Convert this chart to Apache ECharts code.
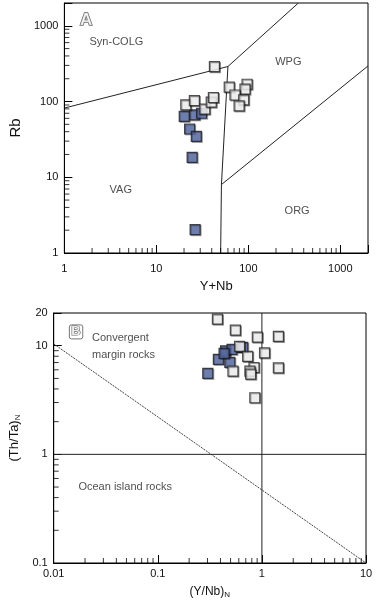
<!DOCTYPE html>
<html>
<head>
<meta charset="utf-8">
<script src="https://cdn.jsdelivr.net/npm/echarts@6/dist/echarts.min.js"></script>
<style>
  html, body { margin: 0; padding: 0; background: #fff; }
  #chart { width: 379px; height: 607px; }
</style>
</head>
<body>
<div id="chart"></div>
<script>
// diagram A: Rb vs Y+Nb
var aOpen = [[42.8, 289], [20.9, 90.6], [25.9, 103], [33.6, 79.4], [39.5, 98], [41.7, 113],
  [62, 155], [96.9, 169], [92, 146], [71.6, 122], [89, 105], [79.4, 87.8]]
var aFilled = [[20.1, 63.5], [26.1, 66.8], [31, 70], [23, 43.4], [27.2, 34.6], [24.5, 18.3], [26.4, 2.03]]
// field boundaries
var aLine1 = [[1, 82], [60, 290], [350, 2000]]
var aLine2 = [[60, 290], [51, 8], [50, 1]]
var aLine3 = [[51, 8], [2000, 295]]
var aFields = [[3.68, 615, 'Syn-COLG'], [272, 330, 'WPG'], [4.1, 6.75, 'VAG'], [339, 3.54, 'ORG']]

// diagram B: (Th/Ta)N vs (Y/Nb)N
var bOpen = [[0.374, 17.6], [0.556, 13.9], [0.904, 12.0], [1.44, 12.2], [0.61, 9.86], [0.73, 7.96],
  [1.06, 8.6], [0.527, 5.84], [0.84, 6.3], [0.767, 5.84], [0.78, 5.48], [1.44, 6.26], [0.855, 3.32]]
var bFilled = [[0.302, 5.56], [0.382, 7.48], [0.492, 7.02], [0.448, 8.97], [0.516, 9.25], [0.655, 9.65], [0.433, 8.5]]
var bDiag = [[0.01, 10.4], [10, 0.1]]
var bHoriz = [[0.01, 1], [10, 1]]
var bVert = [[1, 0.1], [1, 20]]
var bFields = [[0.0231, 11.7, 'Convergent'], [0.0231, 8.2, 'margin rocks'], [0.0171, 0.497, 'Ocean island rocks']]

var myChart = echarts.init(document.getElementById('chart'))

var font = 'Liberation Sans, Arial, sans-serif'

// minor ticks 2..9 of each decade between lo and hi
function minorTicks(lo, hi) {
  var out = []
  for (var d = lo; d < hi; d *= 10) {
    for (var k = 2; k <= 9; k++) {
      var v = +(d * k).toPrecision(3)
      if (v < hi) out.push(v)
    }
  }
  return out
}

// minor ticks drawn as thin rect symbols sitting on the axis, pointing inward
function tickSeries(idx, xMin, xMax, yMin, yMax) {
  var onX = minorTicks(xMin, xMax).map(function (v) { return [v, yMin] })
  var onY = minorTicks(yMin, yMax).map(function (v) { return [xMin, v] })
  var base = {
    type: 'scatter', xAxisIndex: idx, yAxisIndex: idx, silent: true, clip: false,
    symbol: 'rect', itemStyle: { color: '#000' }, z: 2
  }
  return [
    Object.assign({ data: onX, symbolSize: [1, 5], symbolOffset: [0, -2.5] }, base),
    Object.assign({ data: onY, symbolSize: [5, 1], symbolOffset: [2.5, 0] }, base)
  ]
}

var openStyle = {
  color: '#fff', borderColor: '#222', borderWidth: 1.2,
  shadowColor: 'rgba(0,0,0,0.45)', shadowOffsetX: 1, shadowOffsetY: 1, shadowBlur: 0
}
var filledStyle = {
  color: '#5a6faa', borderColor: '#1a1a22', borderWidth: 1.2,
  shadowColor: 'rgba(0,0,0,0.35)', shadowOffsetX: 1, shadowOffsetY: 1, shadowBlur: 0
}

function lineSeries(data, idx, extra) {
  return Object.assign({
    type: 'line', xAxisIndex: idx, yAxisIndex: idx, data: data,
    showSymbol: false, silent: true, z: 1,
    lineStyle: { color: '#222', width: 1 }
  }, extra || {})
}

function pointSeries(data, idx, style) {
  return {
    type: 'scatter', xAxisIndex: idx, yAxisIndex: idx, data: data,
    symbol: 'rect', symbolSize: 10, itemStyle: style, z: 3
  }
}

function textSeries(data, idx, label) {
  return {
    type: 'scatter', xAxisIndex: idx, yAxisIndex: idx, data: data,
    symbolSize: 1, itemStyle: { color: 'transparent' }, silent: true, z: 4,
    label: Object.assign({
      show: true, distance: 0,
      formatter: function (p) { return p.data[2] },
      color: '#222', fontSize: 11, fontFamily: font
    }, label)
  }
}

function axisBase() {
  return {
    type: 'log', logBase: 10,
    axisLine: { show: true, lineStyle: { color: '#000', width: 1 } },
    axisTick: { show: true, inside: true, length: 8, lineStyle: { color: '#000' } },
    splitLine: { show: false },
    minorTick: { show: false },
    axisLabel: {
      color: '#111', fontSize: 11, fontFamily: font,
      formatter: function (v) { return v === 2000 ? '' : String(v) }
    },
    nameTextStyle: { color: '#111', fontFamily: font }
  }
}

var xA = Object.assign(axisBase(), {
  gridIndex: 0, min: 1, max: 2000,
  name: 'Y+Nb', nameLocation: 'middle', nameGap: 27
})
xA.axisLabel.margin = 10
xA.nameTextStyle.fontSize = 13

var yA = Object.assign(axisBase(), {
  gridIndex: 0, min: 1, max: 2000,
  name: 'Rb', nameLocation: 'middle', nameGap: 31
})
yA.axisLabel.margin = 6
yA.nameTextStyle.fontSize = 15

var xB = Object.assign(axisBase(), {
  gridIndex: 1, min: 0.01, max: 10,
  name: '(Y/Nb){sub|N}', nameLocation: 'middle', nameGap: 22
})
xB.axisLabel.margin = 5
xB.nameTextStyle.fontSize = 12
xB.nameTextStyle.rich = { sub: { fontSize: 8, padding: [6, 0, 0, 0], color: '#111', fontFamily: font } }

var yB = Object.assign(axisBase(), {
  gridIndex: 1, min: 0.1, max: 20,
  name: '(Th/Ta){sub|N}', nameLocation: 'middle', nameGap: 28
})
yB.axisLabel.margin = 6
yB.nameTextStyle.fontSize = 13
yB.nameTextStyle.rich = { sub: { fontSize: 8, padding: [6, 0, 0, 0], color: '#111', fontFamily: font } }

var option = {
  backgroundColor: '#fff',
  animation: false,
  grid: [
    { left: 47, top: 3, width: 321, height: 250, show: true, borderColor: '#000', borderWidth: 1, backgroundColor: 'transparent' },
    { left: 45, top: 313, width: 321, height: 250, show: true, borderColor: '#000', borderWidth: 1, backgroundColor: 'transparent' }
  ],
  xAxis: [xA, xB],
  yAxis: [yA, yB],
  series: [].concat(
    // diagram A
    lineSeries(aLine1, 0),
    lineSeries(aLine2, 0),
    lineSeries(aLine3, 0),
    tickSeries(0, 1, 2000, 1, 2000),
    pointSeries(aFilled, 0, filledStyle),
    pointSeries(aOpen, 0, openStyle),
    textSeries(aFields, 0, { position: 'inside' }),
    textSeries([[1.72, 1190, 'A']], 0, {
      position: 'inside', color: '#fff', textBorderColor: '#444', textBorderWidth: 1.5,
      fontSize: 17, fontWeight: 'bold'
    }),
    // diagram B
    lineSeries(bDiag, 1, { lineStyle: { color: '#444', width: 1, type: [2, 1] } }),
    lineSeries(bHoriz, 1),
    lineSeries(bVert, 1),
    tickSeries(1, 0.01, 10, 0.1, 20),
    pointSeries(bFilled, 1, filledStyle),
    pointSeries(bOpen, 1, openStyle),
    textSeries(bFields, 1, { position: 'right' }),
    textSeries([[0.0164, 13.4, 'B']], 1, {
      position: 'inside', color: '#fff', textBorderColor: '#444', textBorderWidth: 1.2,
      fontSize: 13, fontWeight: 'bold',
      borderColor: '#555', borderWidth: 1, borderRadius: 2, padding: [1, 2, 0, 2]
    })
  )
}

myChart.setOption(option)
</script>
</body>
</html>
